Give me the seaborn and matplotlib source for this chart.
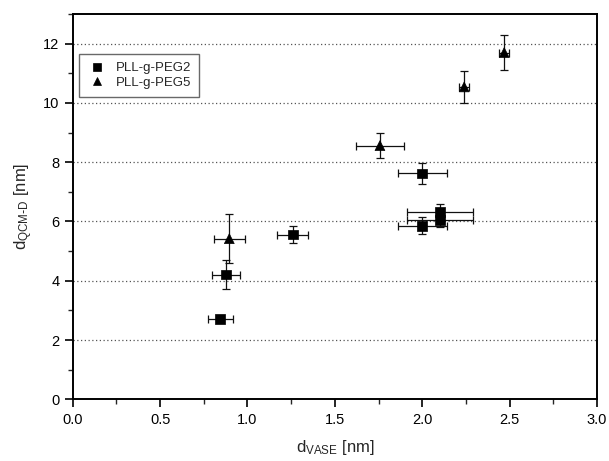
import numpy as np
import pandas as pd
import matplotlib
matplotlib.use("Agg")
import matplotlib.pyplot as plt
import seaborn as sns
from matplotlib.ticker import MultipleLocator, FormatStrFormatter

# data
peg2_x = [0.845, 0.877, 1.259, 2.00, 2.00, 2.10, 2.10]
peg2_y = [2.72, 4.21, 5.56, 7.62, 5.86, 6.32, 6.06]
peg2_xerr = [0.07, 0.08, 0.09, 0.14, 0.14, 0.19, 0.19]
peg2_yerr = [0.08, 0.49, 0.28, 0.37, 0.29, 0.26, 0.26]

peg5_x = [0.896, 1.758, 2.240, 2.469]
peg5_y = [5.42, 8.56, 10.54, 11.70]
peg5_xerr = [0.089, 0.139, 0.03, 0.03]
peg5_yerr = [0.82, 0.43, 0.53, 0.60]

series_names = ["PLL-g-PEG2", "PLL-g-PEG5"]

sns.set_style("ticks")
plt.rcParams['font.family'] = ['Liberation Sans', 'DejaVu Sans']
plt.rcParams['mathtext.default'] = 'regular'

df = pd.DataFrame({
    "x": peg2_x + peg5_x,
    "y": peg2_y + peg5_y,
    "xerr": peg2_xerr + peg5_xerr,
    "yerr": peg2_yerr + peg5_yerr,
    "series": [series_names[0]] * len(peg2_x) + [series_names[1]] * len(peg5_x),
})

fig = plt.figure(figsize=(6.09, 4.61), dpi=100)
ax = fig.add_axes([0.1194, 0.1338, 0.8609, 0.8358])

ax.errorbar(df["x"], df["y"], xerr=df["xerr"], yerr=df["yerr"], fmt="none",
            ecolor="#111111", elinewidth=0.9, capsize=3, capthick=0.9, zorder=2)

sns.scatterplot(data=df, x="x", y="y", style="series",
                markers={series_names[0]: "s", series_names[1]: "^"},
                color="black", s=50, edgecolor="black", linewidth=0.5,
                ax=ax, zorder=3)

ax.set_xlim(0, 3.0)
ax.set_ylim(0, 13)
ax.xaxis.set_major_locator(MultipleLocator(0.5))
ax.xaxis.set_minor_locator(MultipleLocator(0.25))
ax.yaxis.set_major_locator(MultipleLocator(2))
ax.yaxis.set_minor_locator(MultipleLocator(1))
ax.xaxis.set_major_formatter(FormatStrFormatter("%.1f"))
ax.yaxis.set_major_formatter(FormatStrFormatter("%d"))

ax.tick_params(axis="both", which="major", direction="out", length=6, width=1.2,
               labelsize=10.5, colors="black", top=False, right=False)
ax.tick_params(axis="both", which="minor", direction="out", length=3.5, width=1.0,
               top=False, right=False)

for sp in ax.spines.values():
    sp.set_linewidth(1.4)
    sp.set_color("black")
    sp.set_visible(True)

for yv in [2, 4, 6, 8, 10, 12]:
    ax.axhline(yv, color="#555555", linestyle=(0, (1, 2)), linewidth=0.9, zorder=1)

ax.set_xlabel(r"d$_{VASE}$ [nm]", fontsize=12, labelpad=8)
ax.set_ylabel(r"d$_{QCM\text{-}D}$ [nm]", fontsize=12, labelpad=6)

leg = ax.legend(loc="upper left", bbox_to_anchor=(0.012, 0.896), borderaxespad=0,
                frameon=True, fancybox=False, edgecolor="#444444", fontsize=9.5,
                labelspacing=0.2, handletextpad=0.6, borderpad=0.6, handlelength=1.6,
                markerscale=0.8)
leg.get_frame().set_linewidth(1.0)

fig.savefig("out.png", dpi=100)
